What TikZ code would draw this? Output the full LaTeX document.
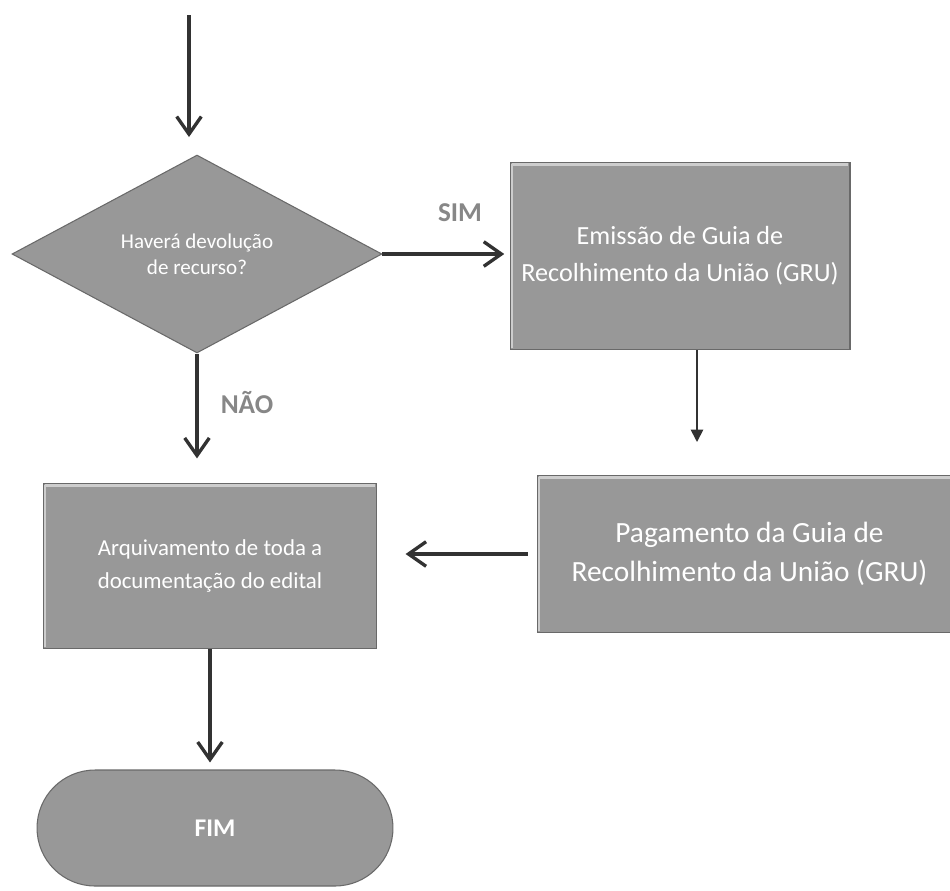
\documentclass[tikz,border=0pt]{standalone}
\usepackage{fontspec}
\setmainfont{Carlito}
\usetikzlibrary{shapes.geometric,arrows.meta}
\definecolor{boxgray}{RGB}{152,152,152}
\definecolor{edgelight}{RGB}{205,205,205}
\definecolor{edgedark}{RGB}{105,105,105}
\definecolor{arrowgray}{RGB}{50,50,50}
\definecolor{labelgray}{RGB}{135,135,135}
\tikzset{
  procbox/.style={rectangle, fill=boxgray, draw=edgedark, line width=0.6pt, text=white, align=center, inner sep=0pt},
  decbox/.style={diamond, fill=boxgray, draw=edgedark, line width=0.6pt, text=white, align=center, inner sep=0pt},
  termbox/.style={rectangle, rounded corners=1.16cm, fill=boxgray, draw=edgedark, line width=0.6pt, text=white, align=center, inner sep=0pt},
  mainarrow/.style={draw=arrowgray, line width=1.9pt, -{Straight Barb[length=10pt,width=14pt,line width=1.9pt]}},
  thinarrow/.style={draw=arrowgray, line width=1pt, -{Triangle[length=7pt,width=7pt]}},
  lbl/.style={text=labelgray, font=\fontsize{15.5}{17}\selectfont\bfseries},
  bevel/.style={edgelight, line width=1.4pt}
}
\begin{document}
\begin{tikzpicture}[x=0.02cm,y=-0.02cm]
\useasboundingbox (0,0) rectangle (950,890);
\fill[white] (0,0) rectangle (950,890);

\node[decbox, minimum width=7.4cm, minimum height=3.96cm, font=\fontsize{12}{15}\selectfont] (d) at (197,254) {Haverá devolução\\de recurso?};
\node[procbox, minimum width=6.8cm, minimum height=3.74cm, font=\fontsize{14.9}{21}\selectfont] (b1) at (680,256) {Emissão de Guia de\\Recolhimento da União (GRU)};
\node[procbox, minimum width=8.5cm, minimum height=3.14cm, font=\fontsize{16.7}{22}\selectfont] (b2) at (749.5,554) {Pagamento da Guia de\\Recolhimento da União (GRU)};
\node[procbox, minimum width=6.68cm, minimum height=3.3cm, font=\fontsize{13}{19}\selectfont] (b3) at (210,566) {Arquivamento de toda a\\documentação do edital};
\node[termbox, minimum width=7.12cm, minimum height=2.32cm, font=\fontsize{14.5}{16}\selectfont\bfseries] (f) at (215,828) {FIM};

% bevel highlights
\foreach \b in {b1,b2,b3}{
  \draw[bevel] ([xshift=1.2pt,yshift=-1.4pt]\b.north west) -- ([xshift=-1.2pt,yshift=-1.4pt]\b.north east);
  \draw[bevel] ([xshift=1.4pt,yshift=-1.2pt]\b.north west) -- ([xshift=1.4pt,yshift=1.2pt]\b.south west);
}

\node[lbl] (sim) at (460,213) {SIM};
\node[lbl] (nao) at (247,402) {NÃO};

\coordinate (top) at (189,15);
\coordinate (topend) at (189,137);
\coordinate (c1) at (697,442);

\draw[mainarrow] (top) -- (topend);
\draw[mainarrow, shorten >=3pt] (d.east) -- (d.east -| b1.west);
\draw[mainarrow, shorten >=14pt] (d.south) -- (d.south |- b3.north);
\draw[thinarrow] (b1.south -| c1) -- (c1);
\draw[mainarrow, shorten <=5pt, shorten >=16pt] (b2.west) -- (b2.west -| b3.east);
\draw[mainarrow, shorten >=4pt] (b3.south) -- (b3.south |- f.north);
\end{tikzpicture}
\end{document}
